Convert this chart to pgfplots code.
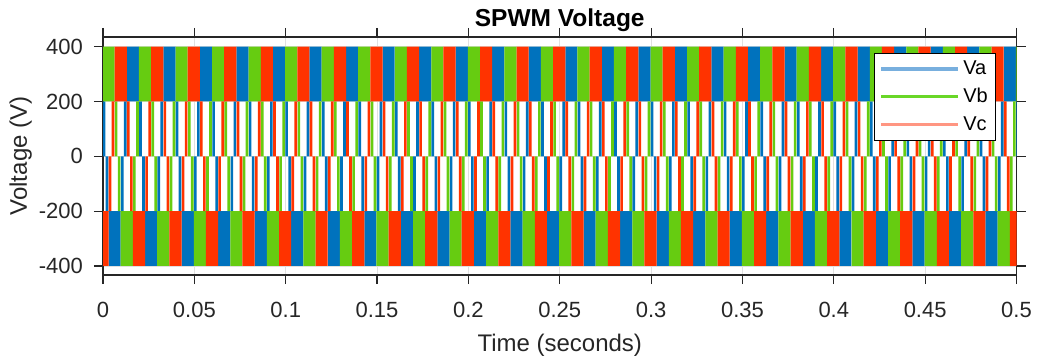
\documentclass[border=0pt]{standalone}
\usepackage{pgfplots}
\pgfplotsset{compat=1.18}
\usepackage{pgfplotstable}
\usepackage{fontspec}
\setmainfont{Liberation Sans}
\definecolor{cA}{RGB}{0,114,189}
\definecolor{cB}{RGB}{102,204,17}
\definecolor{cC}{RGB}{255,51,0}
\definecolor{lA}{RGB}{120,175,222}
\definecolor{lB}{RGB}{105,215,40}
\definecolor{lC}{RGB}{255,150,130}
\definecolor{txt}{RGB}{38,38,38}

% one period of the SPWM envelope (time from the rising zero crossing)
\pgfplotstableread{
t y
0.0001 0
0.0001 200
0.00155 200
0.00155 0
0.00155 nan
0.001667 200
0.001667 400
0.008333 400
0.008333 200
0.008333 nan
0.00845 0
0.00845 200
0.0099 200
0.0099 0
0.0099 nan
0.0101 0
0.0101 -200
0.01155 -200
0.01155 0
0.01155 nan
0.011667 -200
0.011667 -400
0.018333 -400
0.018333 -200
0.018333 nan
0.01845 0
0.01845 -200
0.0199 -200
0.0199 0
0.0199 nan
}\period

\begin{document}
\begin{tikzpicture}
\path[use as bounding box] (0,0) rectangle (1041pt,362pt);
\begin{axis}[
  at={(103pt,87pt)}, anchor=south west,
  scale only axis, width=913.5pt, height=238pt,
  xmin=0, xmax=0.5, ymin=-433, ymax=435,
  xtick={0,0.05,0.1,0.15,0.2,0.25,0.3,0.35,0.4,0.45,0.5},
  xticklabels={0,0.05,0.1,0.15,0.2,0.25,0.3,0.35,0.4,0.45,0.5},
  ytick={-400,-200,0,200,400},
  yticklabels={-400,-200,0,200,400},
  tick align=outside, major tick length=9pt,
  axis line style={draw=black!85, line width=1.2pt},
  major tick style={draw=black!85, line width=1.2pt},
  grid=major, major grid style={draw=black!12, line width=0.8pt},
  tick label style={font=\fontsize{22}{26}\selectfont, text=txt, inner sep=0pt},
  xticklabel style={anchor=base, yshift=-33pt},
  yticklabel style={anchor=east, xshift=-11pt},
  title={SPWM Voltage},
  title style={at={(0.5,1.0168)}, anchor=base, font=\bfseries\fontsize{24.5}{28}\selectfont, inner sep=0pt},
  xlabel={Time (seconds)},
  xlabel style={at={(0.5,-0.3193)}, anchor=base, font=\fontsize{24}{28}\selectfont, text=txt, inner sep=0pt},
  ylabel={Voltage (V)},
  ylabel style={at={(-0.0832,0.5)}, anchor=base, font=\fontsize{24}{28}\selectfont, text=txt, inner sep=0pt},
  unbounded coords=jump,
  legend style={at={(0.9765,0.9328)}, anchor=north east, draw=black, fill=white,
    font=\fontsize{20}{24}\selectfont, inner xsep=7pt, inner ysep=8pt, row sep=12pt,
    nodes={inner sep=0pt, text=black}},
  legend cell align=left,
  /tikz/every odd column/.append style={column sep=6pt},
]
\pgfplotsinvokeforeach{-1,...,25}{
  \addplot[fill=cA, draw=none, forget plot] table[x expr=\thisrow{t}+0.01135+0.02*#1, y=y]{\period};
  \addplot[fill=cB, draw=none, forget plot] table[x expr=\thisrow{t}+0.01802+0.02*#1, y=y]{\period};
  \addplot[fill=cC, draw=none, forget plot] table[x expr=\thisrow{t}+0.00468+0.02*#1, y=y]{\period};
}
\addlegendimage{legend image code/.code={\fill[lA] (0pt,-1.3pt) rectangle (76pt,1.3pt);}}
\addlegendentry{Va}
\addlegendimage{legend image code/.code={\fill[lB] (0pt,-0.8pt) rectangle (76pt,0.8pt);}}
\addlegendentry{Vb}
\addlegendimage{legend image code/.code={\fill[lC] (0pt,-1.3pt) rectangle (76pt,1.3pt);}}
\addlegendentry{Vc}
\end{axis}
\end{tikzpicture}
\end{document}
